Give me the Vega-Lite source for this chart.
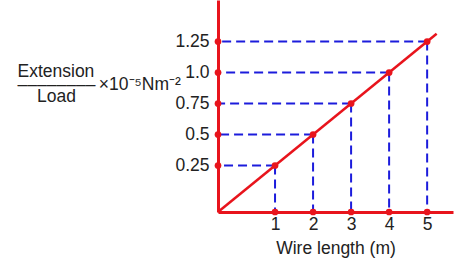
{
  "$schema": "https://vega.github.io/schema/vega-lite/v6.json",
  "autosize": {"type": "none"},
  "width": 235,
  "height": 212,
  "padding": {"left": 218, "top": 0, "right": 21, "bottom": 47},
  "background": "white",
  "datasets": {
    "pts": [
      {"length": 1, "ratio": 0.25},
      {"length": 2, "ratio": 0.5},
      {"length": 3, "ratio": 0.75},
      {"length": 4, "ratio": 1.0},
      {"length": 5, "ratio": 1.25}
    ],
    "fit": [
      {"length": -0.5, "ratio": -0.125},
      {"length": 5.25, "ratio": 1.3125}
    ]
  },
  "config": {
    "view": {"stroke": null},
    "font": "Liberation Sans",
    "axis": {
      "grid": false,
      "ticks": false,
      "domainColor": "#e8141c",
      "domainWidth": 3,
      "labelFont": "Liberation Sans",
      "labelFontSize": 17.5,
      "labelColor": "#222",
      "titleFont": "Liberation Sans",
      "titleFontWeight": "normal",
      "titleColor": "#222"
    }
  },
  "encoding": {
    "x": {
      "field": "length", "type": "quantitative",
      "scale": {"domain": [-0.5, 5.68], "nice": false, "zero": false},
      "axis": {
        "values": [1, 2, 3, 4, 5], "format": "d", "labelPadding": 3,
        "title": "Wire length (m)", "titleFontSize": 17.5, "titlePadding": 7
      }
    },
    "y": {
      "field": "ratio", "type": "quantitative",
      "scale": {"domain": [-0.125, 1.585], "nice": false, "zero": false},
      "axis": {
        "values": [0.25, 0.5, 0.75, 1.0, 1.25],
        "labelExpr": "datum.value == 1 ? '1.0' : toString(datum.value)",
        "labelPadding": 9,
        "title": ["Extension", "––––––––\u2009×10⁻⁵Nm⁻²", "\u200b\u00a0\u00a0\u00a0\u00a0Load"],
        "titleAngle": 0,
        "titleAlign": "left",
        "titleBaseline": "middle",
        "titleX": -201,
        "titleY": 71.5,
        "titleFontSize": 17.5,
        "titleLineHeight": 12.5
      }
    }
  },
  "layer": [
    {
      "data": {"name": "pts"},
      "mark": {"type": "rule", "color": "#1c1cdc", "strokeWidth": 2, "strokeDash": [9, 5]},
      "encoding": {"y2": {"datum": -0.125}}
    },
    {
      "data": {"name": "pts"},
      "mark": {"type": "rule", "color": "#1c1cdc", "strokeWidth": 2, "strokeDash": [9, 5]},
      "encoding": {"x2": {"datum": -0.5}}
    },
    {
      "data": {"name": "fit"},
      "mark": {"type": "line", "color": "#e8141c", "strokeWidth": 2.5, "clip": false},
      "encoding": {}
    },
    {
      "data": {"name": "pts"},
      "mark": {"type": "circle", "color": "#e8141c", "opacity": 1, "size": 45},
      "encoding": {}
    },
    {
      "data": {"name": "pts"},
      "mark": {"type": "circle", "color": "#e8141c", "opacity": 1, "size": 45},
      "encoding": {"y": {"datum": -0.125}}
    },
    {
      "data": {"name": "pts"},
      "mark": {"type": "circle", "color": "#e8141c", "opacity": 1, "size": 45},
      "encoding": {"x": {"datum": -0.5}}
    }
  ]
}
